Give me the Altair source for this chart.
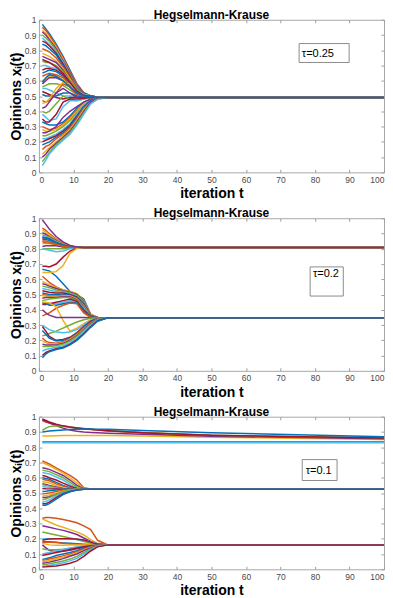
import altair as alt
import pandas as pd

T_A = [1, 2, 3, 5, 7, 9, 11, 13, 15, 17, 20, 100]
T_B = [1, 2, 3, 5, 7, 9, 11, 13, 15, 17, 20, 30, 50, 100]

# panel 1, tau = 0.25 (values at T_A; a line holds its last value afterwards)
p1_lines = [
    [0.97, 0.94, 0.91, 0.84, 0.76, 0.67, 0.58, 0.52, 0.50, 0.493, 0.49],
    [0.95, 0.93, 0.90, 0.83, 0.75, 0.66, 0.58, 0.52, 0.50, 0.493, 0.49],
    [0.93, 0.91, 0.88, 0.82, 0.74, 0.65, 0.57, 0.52, 0.50, 0.493, 0.49],
    [0.92, 0.90, 0.87, 0.81, 0.73, 0.65, 0.57, 0.52, 0.50, 0.493, 0.49],
    [0.90, 0.88, 0.86, 0.80, 0.72, 0.64, 0.56, 0.51, 0.50, 0.493, 0.49],
    [0.88, 0.86, 0.84, 0.79, 0.72, 0.63, 0.56, 0.51, 0.50, 0.493, 0.49],
    [0.86, 0.85, 0.83, 0.78, 0.71, 0.63, 0.55, 0.51, 0.50, 0.493, 0.49],
    [0.84, 0.83, 0.81, 0.77, 0.70, 0.62, 0.55, 0.51, 0.50, 0.493, 0.49],
    [0.81, 0.80, 0.79, 0.75, 0.69, 0.62, 0.55, 0.51, 0.50, 0.493, 0.49],
    [0.78, 0.77, 0.76, 0.73, 0.68, 0.61, 0.54, 0.51, 0.50, 0.493, 0.49],
    [0.76, 0.75, 0.74, 0.72, 0.67, 0.60, 0.54, 0.51, 0.50, 0.493, 0.49],
    [0.73, 0.72, 0.72, 0.70, 0.66, 0.60, 0.54, 0.51, 0.50, 0.493, 0.49],
    [0.70, 0.70, 0.69, 0.68, 0.65, 0.59, 0.53, 0.51, 0.50, 0.493, 0.49],
    [0.67, 0.68, 0.68, 0.67, 0.64, 0.58, 0.53, 0.50, 0.50, 0.493, 0.49],
    [0.65, 0.66, 0.67, 0.66, 0.63, 0.58, 0.53, 0.50, 0.50, 0.493, 0.49],
    [0.63, 0.64, 0.65, 0.64, 0.62, 0.57, 0.52, 0.50, 0.495, 0.49],
    [0.60, 0.61, 0.63, 0.63, 0.61, 0.56, 0.52, 0.50, 0.495, 0.49],
    [0.58, 0.60, 0.62, 0.62, 0.60, 0.56, 0.52, 0.50, 0.495, 0.49],
    [0.56, 0.57, 0.58, 0.58, 0.57, 0.54, 0.51, 0.50, 0.495, 0.49],
    [0.55, 0.55, 0.54, 0.52, 0.50, 0.50, 0.50, 0.495, 0.49],
    [0.53, 0.52, 0.51, 0.49, 0.48, 0.49, 0.49, 0.49],
    [0.51, 0.50, 0.50, 0.50, 0.52, 0.52, 0.50, 0.495, 0.49],
    [0.47, 0.46, 0.47, 0.52, 0.58, 0.56, 0.51, 0.50, 0.49],
    [0.45, 0.46, 0.48, 0.55, 0.59, 0.58, 0.52, 0.50, 0.49],
    [0.42, 0.43, 0.46, 0.52, 0.55, 0.52, 0.49, 0.49],
    [0.40, 0.39, 0.40, 0.45, 0.50, 0.48, 0.47, 0.48, 0.49],
    [0.38, 0.36, 0.34, 0.35, 0.43, 0.47, 0.47, 0.48, 0.49],
    [0.35, 0.33, 0.33, 0.38, 0.46, 0.48, 0.48, 0.485, 0.49],
    [0.33, 0.32, 0.31, 0.31, 0.33, 0.37, 0.42, 0.46, 0.48, 0.49],
    [0.30, 0.29, 0.28, 0.29, 0.32, 0.36, 0.41, 0.45, 0.48, 0.49],
    [0.28, 0.27, 0.27, 0.28, 0.31, 0.35, 0.40, 0.45, 0.48, 0.49],
    [0.26, 0.26, 0.27, 0.30, 0.36, 0.40, 0.43, 0.46, 0.48, 0.49],
    [0.24, 0.24, 0.25, 0.27, 0.30, 0.34, 0.39, 0.44, 0.47, 0.49],
    [0.22, 0.22, 0.23, 0.25, 0.28, 0.32, 0.38, 0.44, 0.47, 0.49],
    [0.20, 0.21, 0.22, 0.24, 0.27, 0.31, 0.37, 0.43, 0.47, 0.485, 0.49],
    [0.18, 0.19, 0.20, 0.23, 0.26, 0.30, 0.36, 0.43, 0.47, 0.485, 0.49],
    [0.15, 0.17, 0.18, 0.22, 0.25, 0.29, 0.35, 0.42, 0.46, 0.485, 0.49],
    [0.12, 0.14, 0.16, 0.20, 0.24, 0.28, 0.34, 0.41, 0.46, 0.485, 0.49],
    [0.10, 0.12, 0.15, 0.19, 0.23, 0.27, 0.33, 0.40, 0.46, 0.485, 0.49],
    [0.07, 0.10, 0.13, 0.18, 0.22, 0.26, 0.32, 0.39, 0.45, 0.48, 0.49],
    [0.045, 0.08, 0.12, 0.17, 0.21, 0.25, 0.31, 0.38, 0.45, 0.48, 0.49],
    [0.74, 0.73, 0.72, 0.69, 0.65, 0.59, 0.53, 0.505, 0.495, 0.49],
    [0.59, 0.62, 0.64, 0.63, 0.60, 0.56, 0.52, 0.50, 0.495, 0.49],
]

# panel 2, tau = 0.2 (values at T_A): lower cluster first, then the upper one
p2_lines = [
    [0.665, 0.66, 0.655, 0.62, 0.57, 0.52, 0.50, 0.47, 0.37, 0.35, 0.347],
    [0.62, 0.60, 0.58, 0.55, 0.53, 0.52, 0.50, 0.45, 0.37, 0.35, 0.347],
    [0.585, 0.575, 0.565, 0.545, 0.53, 0.52, 0.505, 0.46, 0.37, 0.35, 0.347],
    [0.57, 0.565, 0.555, 0.54, 0.525, 0.515, 0.50, 0.455, 0.365, 0.35, 0.347],
    [0.555, 0.55, 0.545, 0.53, 0.52, 0.51, 0.495, 0.45, 0.365, 0.35, 0.347],
    [0.54, 0.535, 0.53, 0.52, 0.515, 0.505, 0.49, 0.445, 0.36, 0.35, 0.347],
    [0.525, 0.52, 0.515, 0.51, 0.51, 0.50, 0.485, 0.44, 0.36, 0.35, 0.347],
    [0.51, 0.505, 0.50, 0.50, 0.50, 0.495, 0.48, 0.435, 0.36, 0.35, 0.347],
    [0.50, 0.495, 0.49, 0.49, 0.495, 0.49, 0.475, 0.43, 0.36, 0.35, 0.347],
    [0.49, 0.49, 0.485, 0.485, 0.49, 0.49, 0.47, 0.425, 0.355, 0.35, 0.347],
    [0.475, 0.48, 0.48, 0.48, 0.485, 0.485, 0.465, 0.42, 0.355, 0.35, 0.347],
    [0.46, 0.465, 0.47, 0.475, 0.48, 0.48, 0.46, 0.415, 0.355, 0.348, 0.347],
    [0.45, 0.44, 0.44, 0.44, 0.45, 0.46, 0.45, 0.41, 0.355, 0.348, 0.347],
    [0.435, 0.435, 0.44, 0.45, 0.46, 0.47, 0.455, 0.40, 0.355, 0.348, 0.347],
    [0.445, 0.44, 0.43, 0.43, 0.44, 0.45, 0.445, 0.39, 0.352, 0.348, 0.347],
    [0.36, 0.37, 0.38, 0.41, 0.43, 0.445, 0.44, 0.38, 0.35, 0.347],
    [0.45, 0.45, 0.445, 0.42, 0.33, 0.26, 0.28, 0.31, 0.335, 0.345, 0.347],
    [0.40, 0.38, 0.365, 0.35, 0.35, 0.35, 0.35, 0.35, 0.348, 0.347],
    [0.23, 0.235, 0.245, 0.26, 0.28, 0.30, 0.32, 0.335, 0.345, 0.347],
    [0.30, 0.285, 0.27, 0.255, 0.25, 0.255, 0.27, 0.30, 0.33, 0.345, 0.347],
    [0.29, 0.26, 0.225, 0.20, 0.205, 0.22, 0.25, 0.29, 0.325, 0.343, 0.347],
    [0.265, 0.24, 0.215, 0.195, 0.20, 0.215, 0.245, 0.285, 0.32, 0.342, 0.347],
    [0.215, 0.195, 0.185, 0.18, 0.19, 0.21, 0.24, 0.28, 0.315, 0.34, 0.347],
    [0.195, 0.185, 0.175, 0.175, 0.185, 0.205, 0.235, 0.275, 0.31, 0.338, 0.347],
    [0.175, 0.17, 0.17, 0.17, 0.18, 0.20, 0.23, 0.27, 0.31, 0.336, 0.347],
    [0.16, 0.16, 0.16, 0.165, 0.175, 0.195, 0.225, 0.265, 0.305, 0.335, 0.347],
    [0.13, 0.14, 0.145, 0.155, 0.165, 0.185, 0.215, 0.255, 0.30, 0.332, 0.347],
    [0.10, 0.12, 0.13, 0.145, 0.155, 0.175, 0.205, 0.245, 0.29, 0.328, 0.347],
    [0.085, 0.11, 0.125, 0.14, 0.15, 0.17, 0.20, 0.24, 0.285, 0.325, 0.347],
    [0.935, 0.92, 0.90, 0.865, 0.84, 0.82, 0.81, 0.808],
    [0.92, 0.91, 0.89, 0.86, 0.835, 0.818, 0.81, 0.808],
    [0.905, 0.895, 0.88, 0.855, 0.83, 0.816, 0.81, 0.808],
    [0.89, 0.885, 0.875, 0.85, 0.83, 0.815, 0.81, 0.808],
    [0.88, 0.875, 0.87, 0.845, 0.825, 0.813, 0.809, 0.808],
    [0.87, 0.87, 0.865, 0.84, 0.825, 0.812, 0.809, 0.808],
    [0.86, 0.86, 0.855, 0.835, 0.82, 0.811, 0.809, 0.808],
    [0.85, 0.85, 0.845, 0.83, 0.818, 0.81, 0.808],
    [0.835, 0.835, 0.835, 0.825, 0.815, 0.81, 0.808],
    [0.815, 0.82, 0.82, 0.82, 0.812, 0.809, 0.808],
    [0.80, 0.80, 0.80, 0.80, 0.80, 0.805, 0.808],
    [0.80, 0.795, 0.79, 0.78, 0.785, 0.80, 0.808],
    [0.685, 0.685, 0.68, 0.70, 0.745, 0.785, 0.805, 0.808],
    [0.875, 0.87, 0.862, 0.842, 0.823, 0.812, 0.809, 0.808],
    [0.845, 0.84, 0.838, 0.828, 0.816, 0.81, 0.808],
    [0.645, 0.645, 0.645, 0.65, 0.69, 0.77, 0.803, 0.808],
    [0.99, 0.96, 0.93, 0.88, 0.845, 0.822, 0.812, 0.808],
]

# panel 3, tau = 0.1 (values at T_B)
p3_lines = [
    [0.834],
    [0.975, 0.965, 0.958, 0.947, 0.938, 0.93, 0.924, 0.92, 0.916, 0.912, 0.907, 0.895, 0.877, 0.858],
    [0.873, 0.873, 0.874, 0.875, 0.876, 0.877, 0.877, 0.877, 0.877, 0.877, 0.876, 0.873, 0.866, 0.85],
    [0.98, 0.97, 0.96, 0.94, 0.925, 0.912, 0.905, 0.90, 0.897, 0.895, 0.892, 0.885, 0.872, 0.855],
    [0.91, 0.925, 0.935, 0.94, 0.937, 0.932, 0.927, 0.922, 0.918, 0.914, 0.909, 0.896, 0.878, 0.862],
    [0.829],
    [0.985, 0.975, 0.965, 0.95, 0.94, 0.932, 0.926, 0.921, 0.917, 0.913, 0.908, 0.895, 0.878, 0.86],
    [0.90, 0.903, 0.906, 0.91, 0.913, 0.916, 0.918, 0.919, 0.919, 0.918, 0.917, 0.91, 0.895, 0.868],
    [0.71, 0.70, 0.69, 0.665, 0.64, 0.615, 0.585, 0.535, 0.526, 0.525],
    [0.70, 0.69, 0.68, 0.655, 0.63, 0.60, 0.565, 0.53, 0.525],
    [0.665, 0.66, 0.655, 0.635, 0.615, 0.585, 0.55, 0.528, 0.525],
    [0.65, 0.645, 0.64, 0.62, 0.60, 0.57, 0.54, 0.526, 0.525],
    [0.635, 0.63, 0.625, 0.605, 0.585, 0.555, 0.533, 0.525],
    [0.615, 0.61, 0.60, 0.585, 0.565, 0.545, 0.53, 0.525],
    [0.60, 0.595, 0.59, 0.57, 0.55, 0.535, 0.527, 0.525],
    [0.59, 0.585, 0.58, 0.56, 0.545, 0.53, 0.526, 0.525],
    [0.575, 0.57, 0.565, 0.55, 0.535, 0.528, 0.525],
    [0.56, 0.555, 0.55, 0.54, 0.53, 0.526, 0.525],
    [0.555, 0.55, 0.545, 0.535, 0.528, 0.525],
    [0.545, 0.54, 0.537, 0.53, 0.527, 0.525],
    [0.53, 0.528, 0.527, 0.526, 0.525],
    [0.51, 0.512, 0.515, 0.52, 0.523, 0.525],
    [0.495, 0.497, 0.50, 0.51, 0.518, 0.523, 0.525],
    [0.48, 0.483, 0.487, 0.50, 0.512, 0.52, 0.524, 0.525],
    [0.47, 0.47, 0.475, 0.49, 0.505, 0.517, 0.523, 0.525],
    [0.455, 0.46, 0.47, 0.49, 0.51, 0.52, 0.525],
    [0.44, 0.445, 0.455, 0.48, 0.50, 0.513, 0.521, 0.525],
    [0.43, 0.43, 0.44, 0.47, 0.495, 0.51, 0.52, 0.525],
    [0.42, 0.42, 0.43, 0.46, 0.49, 0.508, 0.519, 0.525],
    [0.335, 0.34, 0.34, 0.335, 0.327, 0.317, 0.305, 0.285, 0.26, 0.19, 0.16],
    [0.33, 0.32, 0.31, 0.29, 0.275, 0.26, 0.245, 0.225, 0.195, 0.17, 0.16],
    [0.285, 0.28, 0.275, 0.265, 0.255, 0.243, 0.228, 0.205, 0.182, 0.166, 0.16],
    [0.245, 0.24, 0.235, 0.225, 0.215, 0.205, 0.195, 0.182, 0.172, 0.164, 0.16],
    [0.20, 0.20, 0.20, 0.20, 0.20, 0.198, 0.195, 0.19, 0.18, 0.168, 0.16],
    [0.19, 0.195, 0.198, 0.20, 0.20, 0.20, 0.198, 0.192, 0.178, 0.165, 0.16],
    [0.18, 0.18, 0.18, 0.177, 0.173, 0.17, 0.167, 0.164, 0.162, 0.16],
    [0.175, 0.178, 0.178, 0.175, 0.17, 0.166, 0.163, 0.161, 0.16],
    [0.17, 0.165, 0.16, 0.158, 0.158, 0.159, 0.16],
    [0.16, 0.14, 0.125, 0.115, 0.118, 0.125, 0.135, 0.145, 0.153, 0.158, 0.16],
    [0.135, 0.13, 0.128, 0.128, 0.132, 0.138, 0.145, 0.15, 0.155, 0.158, 0.16],
    [0.10, 0.105, 0.11, 0.12, 0.13, 0.14, 0.146, 0.151, 0.155, 0.158, 0.16],
    [0.09, 0.095, 0.10, 0.11, 0.12, 0.13, 0.14, 0.148, 0.154, 0.158, 0.16],
    [0.065, 0.07, 0.075, 0.09, 0.10, 0.11, 0.122, 0.138, 0.15, 0.157, 0.16],
    [0.06, 0.063, 0.067, 0.077, 0.088, 0.10, 0.115, 0.132, 0.147, 0.156, 0.16],
    [0.05, 0.053, 0.058, 0.068, 0.08, 0.093, 0.108, 0.127, 0.143, 0.155, 0.16],
    [0.04, 0.043, 0.047, 0.057, 0.07, 0.085, 0.10, 0.122, 0.14, 0.154, 0.16],
    [0.03, 0.032, 0.036, 0.045, 0.055, 0.067, 0.085, 0.11, 0.133, 0.152, 0.16],
    [0.02, 0.022, 0.025, 0.033, 0.043, 0.055, 0.072, 0.10, 0.128, 0.15, 0.16],
    [0.015, 0.016, 0.018, 0.022, 0.03, 0.04, 0.055, 0.085, 0.12, 0.147, 0.16],
]

titles = ["Hegselmann-Krause", "Hegselmann-Krause", "Hegselmann-Krause"]
tau_labels = ["τ=0.25", "τ=0.2", "τ=0.1"]
# annotation boxes in data units: x0, x1, y0, y1 and text anchor (x, y)
tau_boxes = [(75.4, 89.9, 0.72, 0.844), (78.6, 88.2, 0.49, 0.681), (76.3, 86.4, 0.582, 0.719)]
tau_text = [(76.2, 0.759), (79.4, 0.615), (77.3, 0.627)]

x_ticks = list(range(0, 101, 10))
y_ticks = [i / 10 for i in range(11)]

MATLAB = ["#0072BD", "#D95319", "#EDB120", "#7E2F8E", "#77AC30", "#4DBEEE", "#A2142F"]
FONT = "Liberation Sans"
AXC = "#9e9e9e"


def make_df(lines, times):
    rows = []
    for i, vals in enumerate(lines):
        for k, t in enumerate(times):
            v = vals[k] if k < len(vals) else vals[-1]
            rows.append({"t": t, "v": v, "id": i, "c": i % 7})
    return pd.DataFrame(rows)


def panel(lines, times, title, box, txt, label):
    df = make_df(lines, times)
    xs = alt.Scale(domain=[0, 100], nice=False)
    ys = alt.Scale(domain=[0, 1], nice=False)
    tick_style = dict(offset=-3, tickSize=3, domain=False, grid=False, tickColor=AXC,
                      labelFont=FONT, labelFontSize=8.5, labelColor="#4a4a4a")
    title_style = dict(titleFont=FONT, titleFontSize=14, titleFontWeight="bold", titleColor="#000000")
    lines_layer = alt.Chart(df).mark_line(strokeWidth=1.5, clip=True).encode(
        x=alt.X("t:Q", scale=xs, axis=alt.Axis(values=x_ticks, title="iteration t",
                                                labelPadding=3, titlePadding=3, **tick_style, **title_style)),
        y=alt.Y("v:Q", scale=ys, axis=alt.Axis(values=y_ticks, format="~g", title="Opinions xᵢ(t)",
                                                labelPadding=3, titlePadding=1, **tick_style, **title_style)),
        color=alt.Color("c:N", scale=alt.Scale(domain=list(range(7)), range=MATLAB), legend=None),
        detail="id:N",
    )
    bdf = pd.DataFrame([{"x0": box[0], "x1": box[1], "y0": box[2], "y1": box[3]}])
    box_layer = alt.Chart(bdf).mark_rect(fill="white", stroke="#8c8c8c", strokeWidth=1).encode(
        x=alt.X("x0:Q", scale=xs, axis=alt.Axis(orient="top", values=x_ticks, labels=False, title=None,
                                                 minExtent=0, **tick_style)),
        x2="x1:Q",
        y=alt.Y("y0:Q", scale=ys, axis=alt.Axis(orient="right", values=y_ticks, labels=False, title=None,
                                                 minExtent=0, **tick_style)),
        y2="y1:Q",
    )
    tdf = pd.DataFrame([{"x": txt[0], "y": txt[1], "s": label}])
    text_layer = alt.Chart(tdf).mark_text(align="left", baseline="alphabetic", font=FONT,
                                          fontSize=11, color="#000000").encode(
        x=alt.X("x:Q", scale=xs, axis=None), y=alt.Y("y:Q", scale=ys, axis=None), text="s:N")
    return alt.layer(lines_layer, box_layer, text_layer).resolve_axis(
        x="independent", y="independent"
    ).properties(
        width=346, height=153,
        title=alt.TitleParams(title, font=FONT, fontSize=12, fontWeight="bold", color="#000000",
                              offset=-6, anchor="middle"),
    )


charts = [
    panel(p1_lines, T_A, titles[0], tau_boxes[0], tau_text[0], tau_labels[0]),
    panel(p2_lines, T_A, titles[1], tau_boxes[1], tau_text[1], tau_labels[1]),
    panel(p3_lines, T_B, titles[2], tau_boxes[2], tau_text[2], tau_labels[2]),
]

chart = alt.vconcat(*charts, spacing=5).properties(
    padding={"left": 0, "top": -1, "right": 0, "bottom": 0}
).configure_view(stroke="#a8a8a8", strokeWidth=1)

chart.save("out.html", embed_options={"renderer": "svg", "actions": False})
